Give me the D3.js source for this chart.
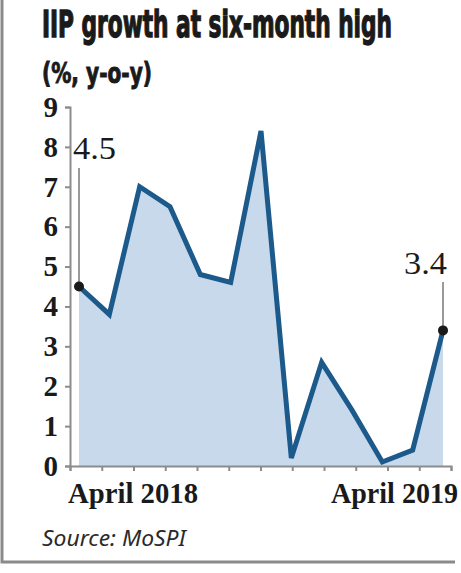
<!DOCTYPE html>
<html>
<head>
<meta charset="utf-8">
<script src="https://cdn.jsdelivr.net/npm/d3@7"></script>
<style>
  body { margin: 0; background: #fff; }
  svg { display: block; }
</style>
</head>
<body>
<div id="chart"></div>
<script>
// Data: IIP growth, % y-o-y, April 2018 .. April 2019
const months = ['Apr 18', 'May 18', 'Jun 18', 'Jul 18', 'Aug 18', 'Sep 18', 'Oct 18',
                'Nov 18', 'Dec 18', 'Jan 19', 'Feb 19', 'Mar 19', 'Apr 19'];
const growth = [4.5, 3.8, 7.0, 6.5, 4.8, 4.6, 8.4, 0.2, 2.6, 1.4, 0.1, 0.4, 3.4];
const yTicks = [0, 1, 2, 3, 4, 5, 6, 7, 8, 9];
const xTickCount = 12;
const xLabels = ['April 2018', 'April 2019'];
const callouts = [{i: 0, text: '4.5'}, {i: 12, text: '3.4'}];

const width = 461, height = 573;
const serif = '"Liberation Serif", "DejaVu Serif", serif';
const narrow = '"Liberation Sans Narrow", "DejaVu Sans Condensed", sans-serif';

const svg = d3.select('#chart')
    .append('svg')
        .attr('width', width)
        .attr('height', height);

// frame
svg.append('path')
    .attr('d', 'M2,0V562H455')
    .attr('fill', 'none')
    .attr('stroke', '#8a8a8a')
    .attr('stroke-width', 3);

// titles: smaller face stretched tall, stroke thickens it like the headline
svg.append('g')
    .attr('transform', 'translate(42,37) scale(1,1.35)')
  .append('text')
    .attr('x', 0).attr('y', 0)
    .attr('textLength', 350).attr('lengthAdjust', 'spacingAndGlyphs')
    .style('font-family', narrow)
    .style('font-weight', 'bold').style('font-size', '28px')
    .style('fill', '#1a1a1a').style('stroke', '#1a1a1a').style('stroke-width', 1)
    .text('IIP growth at six-month high');

svg.append('g')
    .attr('transform', 'translate(42,83) scale(1,1.15)')
  .append('text')
    .attr('x', 0).attr('y', 0)
    .attr('textLength', 110).attr('lengthAdjust', 'spacingAndGlyphs')
    .style('font-family', narrow)
    .style('font-weight', 'bold').style('font-size', '25px')
    .style('fill', '#1a1a1a').style('stroke', '#1a1a1a').style('stroke-width', 0.8)
    .text('(%, y-o-y)');

// scales
var xScale = d3.scalePoint()
    .domain(months)
    .range([79, 443]);

var yScale = d3.scaleLinear()
    .domain([0, 9])
    .range([466, 107]);

var tickScale = d3.scaleLinear()
    .domain([0, xTickCount])
    .range([70, 451]);

const points = months.map((m, i) => ({m: m, v: growth[i]}));

// area + line
var area = d3.area()
    .x(d => xScale(d.m))
    .y0(yScale(0))
    .y1(d => yScale(d.v));

svg.append('path')
    .datum(points)
    .attr('d', area)
    .attr('fill', '#c7d9ea');

var line = d3.line()
    .x(d => xScale(d.m))
    .y(d => yScale(d.v));

svg.append('path')
    .datum(points)
    .attr('d', line)
    .attr('fill', 'none')
    .attr('stroke', '#1c5a8b')
    .attr('stroke-width', 5)
    .attr('stroke-linejoin', 'miter');

// y axis
var yAxis = svg.append('g')
    .attr('transform', 'translate(70,0)')
    .call(d3.axisLeft(yScale).tickValues(yTicks).tickFormat(d3.format('d'))
        .tickSizeInner(5).tickSizeOuter(5).tickPadding(7));

// x axis
var xAxis = svg.append('g')
    .attr('transform', 'translate(0,' + yScale(0) + ')')
    .call(d3.axisBottom(tickScale).ticks(xTickCount).tickFormat('')
        .tickSizeInner(5).tickSizeOuter(5));

[yAxis, xAxis].forEach(g => {
    g.selectAll('path, line').attr('stroke', '#8c8c8c').attr('stroke-width', 2);
});

yAxis.selectAll('text')
    .style('font-family', serif)
    .style('font-weight', 'bold')
    .style('font-size', '29px')
    .style('fill', '#1a1a1a');

// x labels
svg.append('text')
    .attr('x', 68).attr('y', 503)
    .attr('textLength', 130).attr('lengthAdjust', 'spacingAndGlyphs')
    .style('font-family', serif).style('font-weight', 'bold').style('font-size', '29px')
    .style('fill', '#1a1a1a')
    .text(xLabels[0]);

svg.append('text')
    .attr('x', 331).attr('y', 503)
    .attr('textLength', 127).attr('lengthAdjust', 'spacingAndGlyphs')
    .style('font-family', serif).style('font-weight', 'bold').style('font-size', '29px')
    .style('fill', '#1a1a1a')
    .text(xLabels[1]);

// callouts
const calloutPos = [{top: 168, labelX: 73, labelY: 159}, {top: 282, labelX: 404, labelY: 274}];
callouts.forEach((c, k) => {
    var px = xScale(months[c.i]), py = yScale(growth[c.i]);
    svg.append('line')
        .attr('x1', px).attr('x2', px)
        .attr('y1', calloutPos[k].top).attr('y2', py)
        .attr('stroke', '#777')
        .attr('stroke-width', 1.5);
    svg.append('circle')
        .attr('cx', px).attr('cy', py)
        .attr('r', 5)
        .attr('fill', '#1a1a1a');
    svg.append('text')
        .attr('x', calloutPos[k].labelX).attr('y', calloutPos[k].labelY)
        .attr('textLength', 43).attr('lengthAdjust', 'spacingAndGlyphs')
        .style('font-family', serif).style('font-size', '32px')
        .style('fill', '#1a1a1a')
        .text(c.text);
});

// source
svg.append('text')
    .attr('x', 42).attr('y', 546)
    .attr('textLength', 144).attr('lengthAdjust', 'spacingAndGlyphs')
    .style('font-family', '"Noto Sans", "Open Sans", sans-serif')
    .style('font-style', 'italic').style('font-size', '22px')
    .style('fill', '#2a2a2a')
    .text('Source: MoSPI');
</script>
</body>
</html>
